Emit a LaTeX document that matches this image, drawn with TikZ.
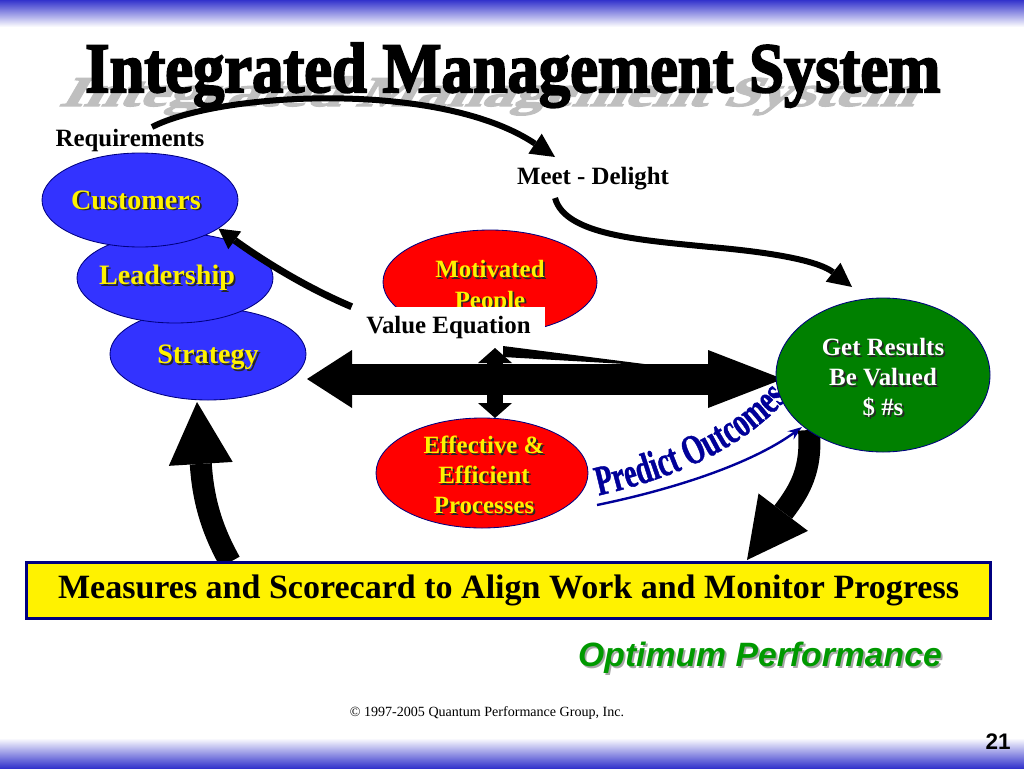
\documentclass[tikz,border=0pt]{standalone}
\usepackage{fontspec}
\setmainfont{Liberation Serif}
\newfontfamily\headfont{Liberation Serif}[FakeBold=3]
\newfontfamily\armfont{Liberation Sans}
\newfontfamily\predictfont{Liberation Serif}[FakeStretch=0.67, FakeBold=1]
\usetikzlibrary{arrows.meta,shapes.geometric,decorations.text}

\definecolor{bandblue}{RGB}{51,51,204}
\definecolor{ovalblue}{RGB}{51,51,255}
\definecolor{ovalred}{RGB}{255,0,0}
\definecolor{ovalgreen}{RGB}{0,128,0}
\definecolor{rimnavy}{RGB}{0,0,128}
\definecolor{optgreen}{RGB}{0,153,0}
\definecolor{predblue}{RGB}{0,0,153}

\tikzset{
  oval/.style={ellipse, draw=rimnavy, line width=0.6pt, inner sep=0pt},
  plain/.style={font=\bfseries\fontsize{17.7}{20}\selectfont},
  fat/.style={line width=#1, draw=black},
}

% yellow/white text with a dark drop shadow
\newcommand{\dropnode}[4]{%
  \node[align=center, font=\bfseries\fontsize{#3}{21.5}\selectfont, text=black!85,
    xshift=1.3pt, yshift=-1.3pt] at (#1) {#4};
  \node[align=center, font=\bfseries\fontsize{#3}{21.5}\selectfont, text=#2] at (#1) {#4};}
\newcommand{\titletext}{\resizebox{213.75mm}{12.25mm}{\headfont\bfseries Integrated Management System}}

\begin{document}
\begin{tikzpicture}[x=0.25mm, y=-0.25mm, >=Stealth]
  \useasboundingbox (0,0) rectangle (1024,768);
  \shade[top color=bandblue, bottom color=white] (0,0) rectangle (1024,27);
  \shade[top color=white, bottom color=bandblue] (0,738) rectangle (1024,768);

  % title and its cast shadow
  \begin{scope}[shift={(58,106)}, yscale=0.6, xslant=0.35]
    \node[anchor=base west, inner sep=0pt, text=gray!50, transform shape] {\titletext};
  \end{scope}
  \node[anchor=base west, inner sep=0pt] (title) at (85,92) {\titletext};

  % the three blue ovals
  \node[oval, fill=ovalblue, minimum width=49mm, minimum height=23mm] (strat) at (208,354) {};
  \node[oval, fill=ovalblue, minimum width=49mm, minimum height=22.5mm] (lead) at (175,278) {};
  \node[oval, fill=ovalblue, minimum width=49mm, minimum height=23.5mm] (cust) at (140,200) {};
  \dropnode{[xshift=-1mm]cust.center}{yellow}{20}{Customers}
  \dropnode{[xshift=-2mm]lead.center}{yellow}{20}{Leadership}
  \dropnode{[yshift=-0.75mm]strat.center}{yellow}{20}{Strategy}

  \node[oval, fill=ovalred, minimum width=53.5mm, minimum height=26mm] (mot) at (490,282) {};
  \dropnode{[yshift=-1.25mm]mot.center}{yellow}{17.7}{Motivated\\People}

  \node[plain] (req) at (130,141) {Requirements};
  \node[plain] (meet) at (593,179) {Meet - Delight};

  \coordinate (arcA) at (152,127);
  \coordinate (arcB) at (555,157);
  \coordinate (wavA) at (555,198);
  \coordinate (wavB) at (852,287);
  \draw[fat=1.5mm, -{Triangle[length=6mm, width=6mm, line width=0pt]}]
    (arcA) .. controls (220,92) and (440,80) .. (arcB);
  \draw[fat=1.5mm, -{Triangle[length=6mm, width=6mm, line width=0pt]}]
    (wavA) .. controls (565,235) and (640,240) .. (710,247)
    .. controls (780,253) and (820,262) .. (wavB);

  \node[fill=white, minimum width=48.25mm, minimum height=10.25mm, inner sep=0pt,
    plain] (val) at (448.5,327.5) {Value Equation};
  \draw[fat=1.75mm, -{Triangle[length=5mm, width=5.5mm, line width=0pt]}]
    (val.north west) .. controls (300,285) and (255,255) .. (cust.-20);

  % value equation arrows
  \coordinate (hl) at (307,379);
  \coordinate (hr) at (783,379);
  \coordinate (vt) at (495,348);
  \coordinate (vb) at (495,418);
  \fill (503,346) -- (660,366) -- (503,357) -- cycle;
  \draw[fat=7.75mm, {Triangle[length=11.25mm, width=14.5mm, line width=0pt]}-{Triangle[length=18.75mm, width=14.5mm, line width=0pt]}]
    (hl) -- (hr);
  \draw[fat=4mm, {Triangle[length=3.75mm, width=8.5mm, line width=0pt]}-{Triangle[length=3.75mm, width=8.5mm, line width=0pt]}]
    (vt) -- (vb);

  \node[oval, fill=ovalred, minimum width=53mm, minimum height=27.5mm] (proc) at (482,473) {};
  \dropnode{[xshift=0.5mm, yshift=-0.5mm]proc.center}{yellow}{17.7}{Effective \&\\Efficient\\Processes}

  % predict outcomes
  \path[decorate, decoration={text along path, text align=center,
    text={|\predictfont\bfseries\fontsize{30}{32}\selectfont\color{predblue}|Predict Outcomes}}]
    (592,497) .. controls (660,482) and (740,455) .. (792,393);
  \coordinate (prA) at (597,505);
  \draw[predblue, line width=0.6mm, -{Stealth[length=3.5mm, width=2.5mm]}]
    (prA) .. controls (670,490) and (750,465) .. (802,427);

  % feedback loop
  \coordinate (upA) at (230,562);
  \coordinate (upB) at (197,402);
  \coordinate (dnA) at (809,430);
  \coordinate (dnB) at (747,560);
  \draw[fat=5.5mm, -{Triangle[length=15.5mm, width=16mm, line width=0pt]}]
    (upA) .. controls (212,530) and (203,500) .. (upB);
  \draw[fat=5.5mm, -{Triangle[length=15mm, width=15.5mm, line width=0pt]}]
    (dnA) .. controls (812,470) and (800,490) .. (dnB);

  \node[oval, fill=ovalgreen, minimum width=53.5mm, minimum height=38.5mm] (res) at (883,375) {};
  \dropnode{[yshift=-0.75mm]res.center}{white}{17.7}{Get Results\\Be Valued\\\$ \#s}

  \node[draw=rimnavy, line width=0.75mm, fill=yellow, minimum width=240.75mm,
    minimum height=14mm, inner sep=0pt, font=\bfseries\fontsize{24.2}{28}\selectfont]
    (meas) at (508.5,590) {Measures and Scorecard to Align Work and Monitor Progress};

  \node[font=\armfont\bfseries\itshape\fontsize{24}{27}\selectfont, text=gray!70,
    xshift=1.3pt, yshift=-1.3pt] at (760,658) {Optimum Performance};
  \node[font=\armfont\bfseries\itshape\fontsize{24}{27}\selectfont, text=optgreen]
    (opt) at (760,658) {Optimum Performance};
  \node[font=\fontsize{10}{12}\selectfont] (copy) at (487,713) {\textcopyright{} 1997-2005 Quantum Performance Group, Inc.};
  \node[font=\armfont\bfseries\fontsize{16}{18}\selectfont] (page) at (998,742) {21};
\end{tikzpicture}
\end{document}
